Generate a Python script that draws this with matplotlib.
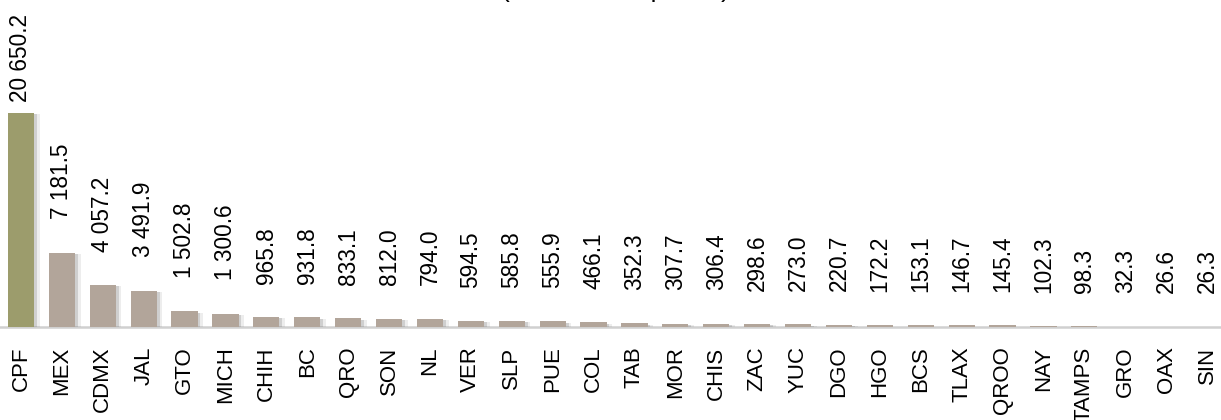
import matplotlib
matplotlib.use("Agg")
import matplotlib.pyplot as plt
import matplotlib.patheffects as pe
import numpy as np

plt.rcParams["font.family"] = ["Liberation Sans", "DejaVu Sans"]

STATES = [
    "CPF", "MEX", "CDMX", "JAL", "GTO", "MICH", "CHIH", "BC", "QRO", "SON",
    "NL", "VER", "SLP", "PUE", "COL", "TAB", "MOR", "CHIS", "ZAC", "YUC",
    "DGO", "HGO", "BCS", "TLAX", "QROO", "NAY", "TAMPS", "GRO", "OAX", "SIN",
]
VALUES = [
    20650.2, 7181.5, 4057.2, 3491.9, 1502.8, 1300.6, 965.8, 931.8, 833.1, 812.0,
    794.0, 594.5, 585.8, 555.9, 466.1, 352.3, 307.7, 306.4, 298.6, 273.0,
    220.7, 172.2, 153.1, 146.7, 145.4, 102.3, 98.3, 32.3, 26.6, 26.3,
]
TITLE = "(Millones de pesos)"

OLIVE = "#9c9c6c"
TAUPE = "#b2a59a"


def fmt(v):
    # thousands separated by a space, one decimal
    return f"{v:,.1f}".replace(",", " ")


if __name__ == "__main__":

    fig = plt.figure(figsize=(12.21, 4.20), dpi=100)
    ax = fig.add_axes([0, 93 / 420, 1, 327 / 420])

    x = np.arange(len(STATES))
    colors = [OLIVE] + [TAUPE] * (len(STATES) - 1)

    bars = ax.bar(x, VALUES, width=0.64, color=colors, zorder=3)
    for b in bars:
        b.set_path_effects(
            [
                pe.SimplePatchShadow(offset=(4, -1), shadow_rgbFace="#888888", alpha=0.15),
                pe.SimplePatchShadow(offset=(2, -1), shadow_rgbFace="#777777", alpha=0.25),
                pe.Normal(),
            ]
        )

    for i, (xi, v) in enumerate(zip(x, VALUES)):
        # first label squeezed to fit below the top edge
        off = 8 if i == 0 else 24
        ax.annotate(
            fmt(v),
            (xi, v),
            xytext=(0, off),
            textcoords="offset points",
            rotation=90,
            ha="center",
            va="bottom",
            fontsize=16.3,
            color="black",
        )

    ax.set_xlim(-21 / 40.9, 29 + 14 / 40.9)
    ax.set_ylim(0, 327 / 214 * 20650.2)

    ax.set_xticks(x)
    ax.set_xticklabels(STATES, rotation=90, fontsize=16)
    ax.tick_params(axis="x", length=0, pad=14)
    ax.set_yticks([])

    for s in ["top", "left", "right"]:
        ax.spines[s].set_visible(False)
    ax.spines["bottom"].set_color("#d0d0d0")
    ax.spines["bottom"].set_linewidth(1.8)
    ax.patch.set_alpha(0)

    # title sits mostly above the canvas, as in the source image
    fig.text(0.504, 1 + 3 / 420, TITLE, ha="center", va="baseline", fontsize=19)

    fig.savefig("out.png", dpi=100)
    plt.close()
